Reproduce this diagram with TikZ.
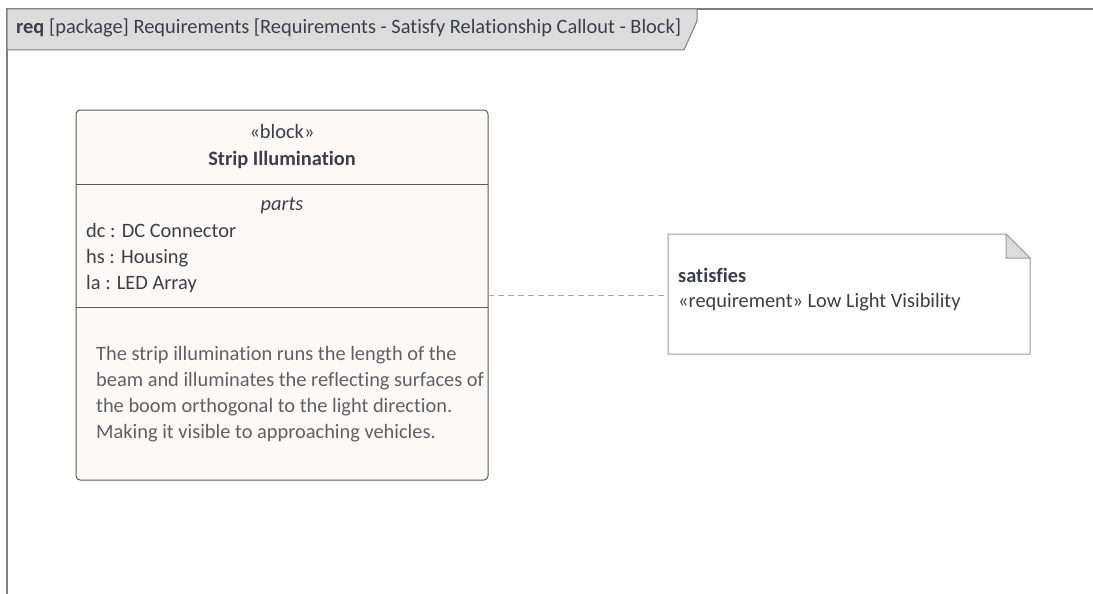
\documentclass[tikz,border=0pt]{standalone}
\usepackage{fontspec}
\setmainfont{Carlito}[Ligatures=NoCommon]
\definecolor{framec}{HTML}{7F7F7F}
\definecolor{tabfill}{HTML}{DCDCDC}
\definecolor{blockfill}{HTML}{FDF9F6}
\definecolor{blockline}{HTML}{5A5A5A}
\definecolor{txt}{HTML}{3C3F48}
\definecolor{desc}{HTML}{5F6066}
\definecolor{notefill}{HTML}{FFFFFF}
\definecolor{noteline}{HTML}{9A9A9A}
\definecolor{dashcol}{HTML}{A8A8A8}
\tikzset{
  lbl/.style={inner sep=0pt, anchor=base west, text=txt, font=\fontsize{20.4}{24}\selectfont},
  clbl/.style={inner sep=0pt, anchor=base, text=txt, font=\fontsize{20.4}{24}\selectfont},
  desclbl/.style={inner sep=0pt, anchor=base west, text=desc, font=\fontsize{20.4}{24}\selectfont},
}
\begin{document}
\begin{tikzpicture}[x=1pt,y=-1pt]
\useasboundingbox (0,0) rectangle (1093,594);
% frame
\draw[framec, line width=2pt] (7,600) -- (7,9) -- (1100,9);
\draw[framec, line width=1pt, fill=tabfill] (7,9) -- (697,9) -- (697,21) -- (684,50) -- (7,50) -- cycle;
\node[lbl] (title) at (16,34) {\textbf{req} [package] Requirements [Requirements - Satisfy Relationship Callout - Block]};
% block
\draw[blockline, line width=1pt, fill=blockfill, rounded corners=4pt] (76,110) rectangle (488,480);
\coordinate (blk) at (488,295);
\draw[blockline, line width=1pt] (76,184) -- (488,184);
\draw[blockline, line width=1pt] (76,307) -- (488,307);
\node[clbl] (st) at (282,139) {«block»};
\node[clbl] (nm) at (282,165) {\textbf{Strip Illumination}};
\node[clbl] (pt) at (282,210) {\textit{parts}};
\node[lbl] (p1) at (86,237) {dc : DC Connector};
\node[lbl] (p2) at (86,263) {hs : Housing};
\node[lbl] (p3) at (86,289) {la : LED Array};
\node[desclbl] (d1) at (96,360) {The strip illumination runs the length of the};
\node[desclbl] (d2) at (96,386) {beam and illuminates the reflecting surfaces of};
\node[desclbl] (d3) at (96,412) {the boom orthogonal to the light direction.};
\node[desclbl] (d4) at (96,438) {Making it visible to approaching vehicles.};
% note
\draw[noteline, line width=1pt, fill=notefill] (668,234) -- (1006,234) -- (1030,258) -- (1030,354) -- (668,354) -- cycle;
\draw[noteline, line width=1pt, fill=tabfill] (1006,234) -- (1006,258) -- (1030,258) -- cycle;
\coordinate (nt) at (668,295);
\node[lbl] (n1) at (678,282) {\textbf{satisfies}};
\node[lbl] (n2) at (678,307) {«requirement» Low Light Visibility};
% connector
\draw[dashcol, line width=1pt, dash pattern=on 6pt off 4pt] (blk) -- (nt);
\end{tikzpicture}
\end{document}
